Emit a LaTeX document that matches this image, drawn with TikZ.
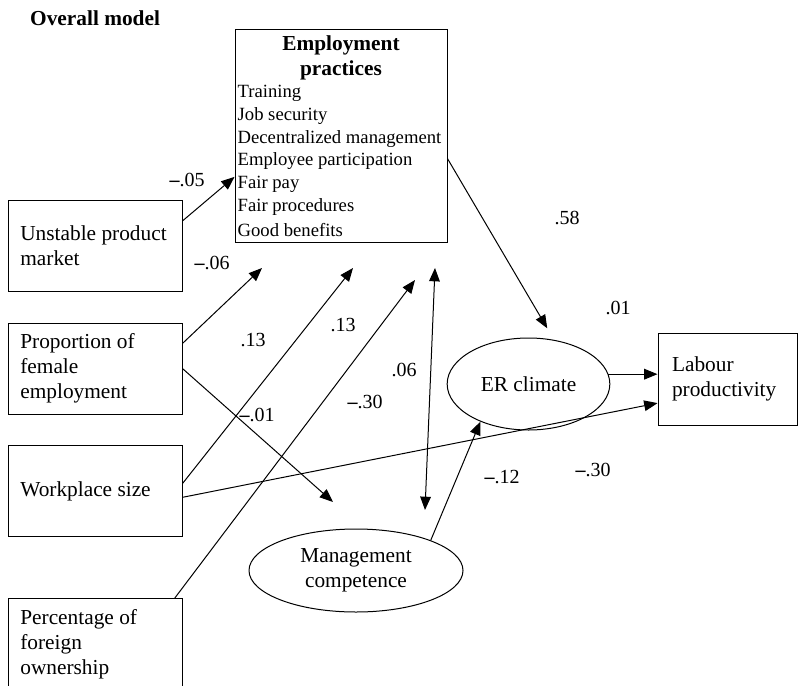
\documentclass[tikz,border=0pt]{standalone}
\usepackage{fontspec}
\setmainfont{Liberation Serif}
\usetikzlibrary{arrows.meta,positioning,shapes.geometric}
\newcommand{\mns}{\textbf{--}}

\begin{document}
\begin{tikzpicture}[
  x=0.75pt,y=-0.75pt,
  font=\fontsize{16}{18.75}\selectfont,
  box/.style={draw,line width=0.75pt,align=flush left},
  pred/.style={box,minimum width=130.5pt,minimum height=68.25pt,
               text width=112pt,inner xsep=9.25pt},
  lat/.style={draw,ellipse,line width=0.75pt,inner sep=0pt,align=center},
  coef/.style={font=\fontsize{15}{18}\selectfont},
  arr/.style={-{Triangle[length=10pt,width=8pt]},line width=0.75pt},
  darr/.style={{Triangle[length=10pt,width=8pt]}-{Triangle[length=10pt,width=8pt]},
               line width=0.75pt}
]
\useasboundingbox (0,0) rectangle (798,685);

\node[anchor=west,font=\fontsize{16}{18.75}\selectfont\bfseries] (title) at (25.5,18) {Overall model};

% Predictors on the left.
\node[pred] (unstable) at (95,246) {Unstable product\\market};
\node[pred,below=22.9pt of unstable] (female) {Proportion of\\female\\employment};
\node[pred,below=23pt of female] (size) {Workplace size};
\node[pred,below=45.75pt of size] (foreign) {Percentage of\\foreign\\ownership};

% Employment practices block.
\node[box,minimum width=159pt,minimum height=159pt,text width=155pt,
      inner xsep=2pt,inner ysep=3pt] (ep) at (341,136)
  {{\centering\bfseries Employment\\practices\par}%
   \fontsize{14}{17}\selectfont Training\\Job security\\Decentralized management\\
   Employee participation\\Fair pay\\Fair procedures\\Good benefits};

% Mediators and outcome.
\node[lat,minimum width=122pt,minimum height=69pt] (er) at (528.5,384) {ER climate};
\node[lat,minimum width=160.5pt,minimum height=62.25pt] (mc) at (356,570.5) {Management\\competence};
\node[box,minimum width=104.25pt,minimum height=69pt,text width=83.25pt,
      inner xsep=10.5pt] (lp) at (727.5,379) {Labour\\productivity};

% Free arrow ends under the practices block.
\coordinate (femEP) at (262,268);
\coordinate (sizeEP) at (353,268);
\coordinate (forEP) at (415,280);
\coordinate (covTop) at (435,268);
\coordinate (covBot) at (425,510);
\coordinate (femMC) at (333,502);

\draw[arr] (unstable.16) -- (ep.201);
\draw[arr] (female.16) -- (femEP);
\draw[arr] (size.5) -- (sizeEP);
\draw[arr] (foreign.30) -- (forEP);
\draw[darr] (covBot) -- (covTop);
\draw[arr] (female.east) -- (femMC);
\draw[arr] (size.-4) -- (lp.199);
\draw[arr,shorten >=10pt] (ep.-12) -- (er.60);
\draw[arr] (er.7) -- (er.7 -| lp.west);
\draw[arr] (mc.22) -- (er.218);

% Path coefficients.
\node[coef] (cUE) at (187,180) {\mns.05};
\node[coef] (cFE) at (212,263) {\mns.06};
\node[coef] (cSE) at (253,340) {.13};
\node[coef] (cOE) at (343,325) {.13};
\node[coef] (cFM) at (257,415) {\mns.01};
\node[coef] (cOM) at (365,402) {\mns.30};
\node[coef] (cCov) at (404,370) {.06};
\node[coef] (cEE) at (567,218) {.58};
\node[coef] (cEL) at (618,308) {.01};
\node[coef] (cME) at (502,477) {\mns.12};
\node[coef] (cSL) at (593,470) {\mns.30};
\end{tikzpicture}
\end{document}
